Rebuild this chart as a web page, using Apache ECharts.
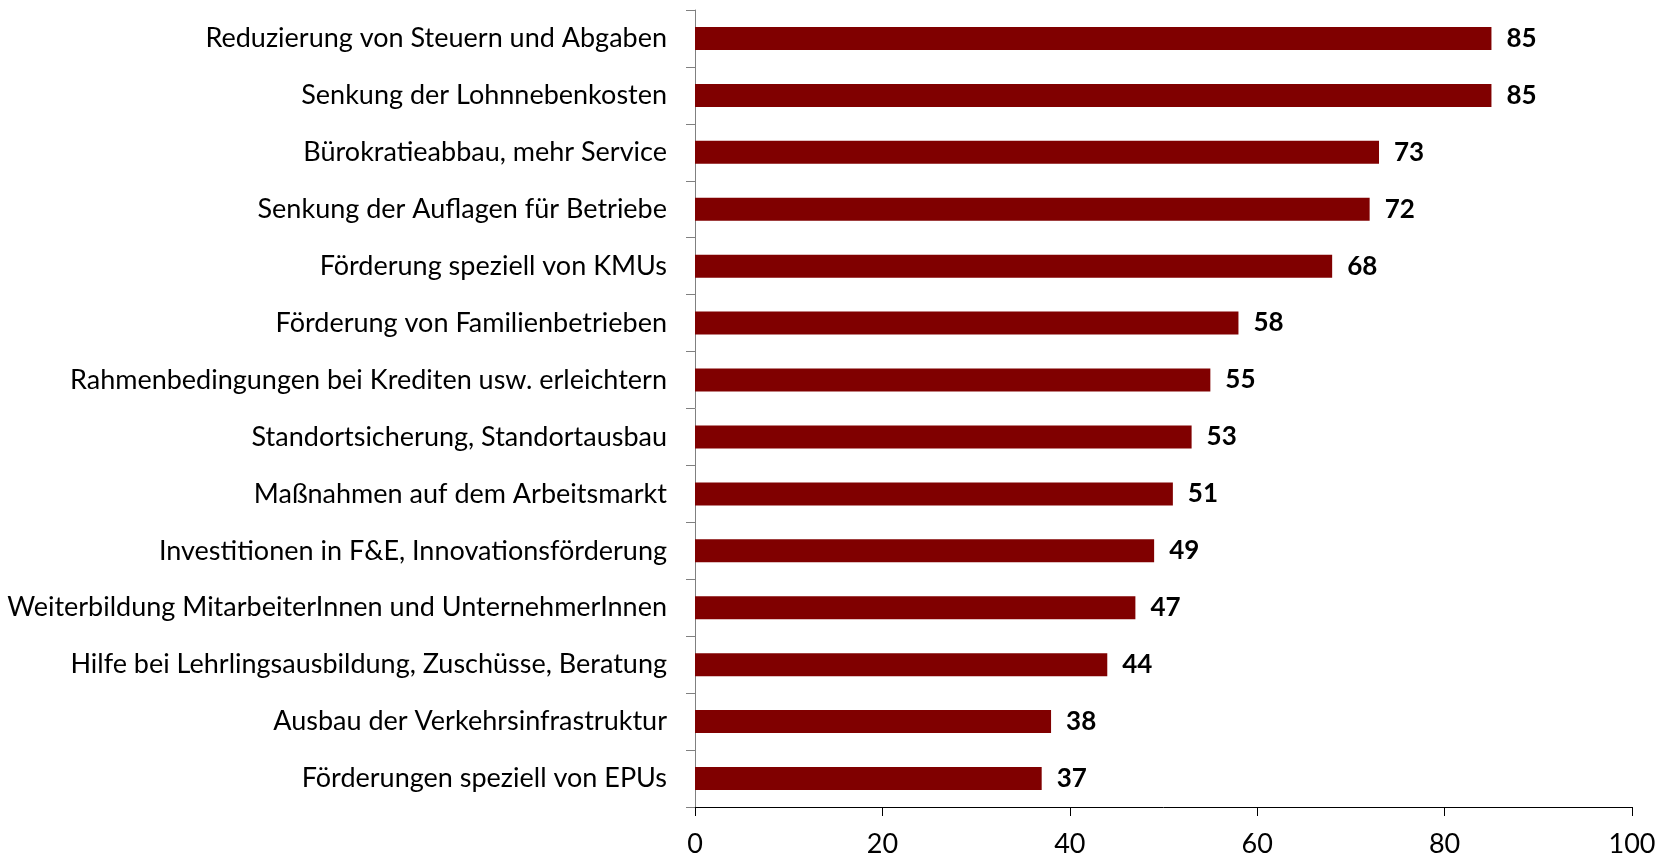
<!DOCTYPE html>
<html><head><meta charset="utf-8">
<script src="https://cdn.jsdelivr.net/npm/echarts@6/dist/echarts.min.js"></script>
<style>html,body{margin:0;padding:0;background:#fff}#c{width:1669px;height:858px}</style>
</head><body><div id="c"></div>
<script>
const categories = [
  "Reduzierung von Steuern und Abgaben",
  "Senkung der Lohnnebenkosten",
  "Bürokratieabbau, mehr Service",
  "Senkung der Auflagen für Betriebe",
  "Förderung speziell von KMUs",
  "Förderung von Familienbetrieben",
  "Rahmenbedingungen bei Krediten usw. erleichtern",
  "Standortsicherung, Standortausbau",
  "Maßnahmen auf dem Arbeitsmarkt",
  "Investitionen in F&E, Innovationsförderung",
  "Weiterbildung MitarbeiterInnen und UnternehmerInnen",
  "Hilfe bei Lehrlingsausbildung, Zuschüsse, Beratung",
  "Ausbau der Verkehrsinfrastruktur",
  "Förderungen speziell von EPUs"
];
const values = [85, 85, 73, 72, 68, 58, 55, 53, 51, 49, 47, 44, 38, 37];
const xTicks = [0, 20, 40, 60, 80, 100];

const chart = echarts.init(document.getElementById('c'), null, {renderer: 'canvas'});
const FONT = 'Lato';
chart.setOption({
  animation: false,
  grid: {left: 695, right: 37, top: 10, bottom: 50, containLabel: false},
  xAxis: {
    type: 'value', min: xTicks[0], max: xTicks[xTicks.length - 1], interval: 20,
    splitLine: {show: false},
    axisLine: {show: true, lineStyle: {color: '#000', width: 1}},
    axisTick: {show: true, length: 9, lineStyle: {color: '#000'}},
    axisLabel: {color: '#000', fontFamily: FONT, fontSize: 27, margin: 24}
  },
  yAxis: {
    type: 'category', data: categories, inverse: true,
    axisLine: {show: true, lineStyle: {color: '#808080', width: 1}},
    axisTick: {show: true, length: 9, lineStyle: {color: '#808080'}},
    axisLabel: {color: '#000', fontFamily: FONT, fontSize: 27, margin: 28}
  },
  series: [{
    type: 'bar', data: values, barWidth: 23,
    itemStyle: {color: '#800000'},
    label: {show: true, position: 'right', distance: 15, color: '#000',
            fontFamily: FONT, fontWeight: 'bold', fontSize: 26}
  }]
});
</script></body></html>
